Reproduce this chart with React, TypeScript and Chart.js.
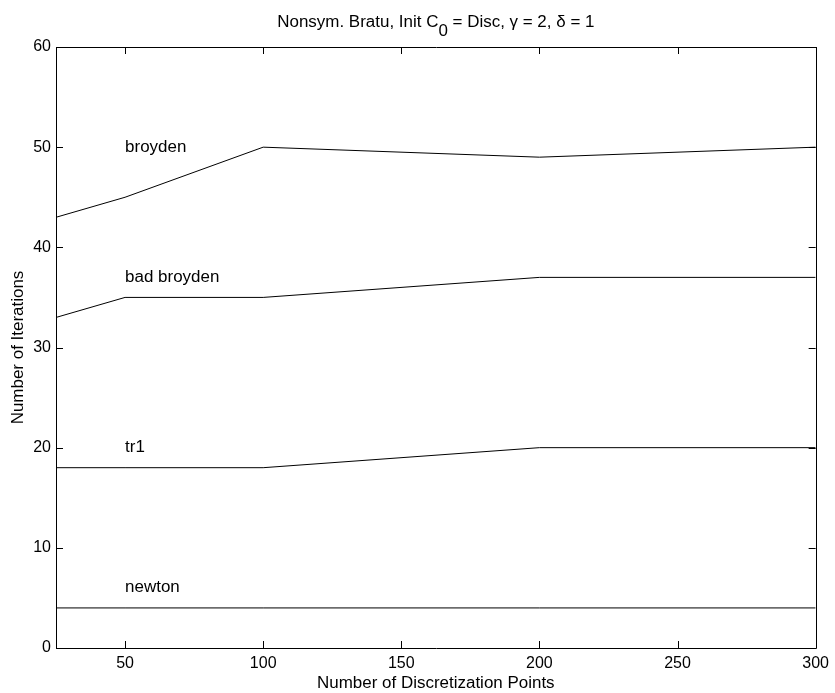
import React, { useEffect, useRef } from "react";
import { Chart, registerables } from "chart.js";

Chart.register(...registerables);

const X_POINTS = [25, 50, 100, 200, 300];
const BROYDEN = [43, 45, 50, 49, 50];
const BAD_BROYDEN = [33, 35, 35, 37, 37];
const TR1 = [18, 18, 18, 20, 20];
const NEWTON = [4, 4, 4, 4, 4];
const SERIES_NAMES = ["broyden", "bad broyden", "tr1", "newton"];
const LABEL_X = 50;
const LABEL_Y = [50, 37, 20, 6];
const X_TICKS = [50, 100, 150, 200, 250, 300];
const Y_TICKS = [0, 10, 20, 30, 40, 50, 60];
const X_MIN = 25;
const X_MAX = 300;
const Y_MIN = 0;
const Y_MAX = 60;
const X_TITLE = "Number of Discretization Points";
const Y_TITLE = "Number of Iterations";
const TITLE_PARTS = ["Nonsym. Bratu, Init C", "0", " = Disc, \u03b3 = 2, \u03b4 = 1"];

const FONT_FAMILY = "'Liberation Sans', Arial, Helvetica, sans-serif";
const FONT = `16px ${FONT_FAMILY}`;
const SX = 1.06;

function drawText(
  ctx: CanvasRenderingContext2D,
  text: string,
  x: number,
  y: number,
  align: CanvasTextAlign,
  baseline: CanvasTextBaseline,
  rotate = 0
) {
  ctx.save();
  ctx.translate(x, y);
  if (rotate) ctx.rotate(rotate);
  ctx.scale(SX, 1);
  ctx.font = FONT;
  ctx.textAlign = align;
  ctx.textBaseline = baseline;
  ctx.fillText(text, 0, 0);
  ctx.restore();
}

const decorPlugin = {
  id: "matlabDecor",
  afterDraw(chart: any) {
    const ctx = chart.ctx as CanvasRenderingContext2D;
    const { left, right, top, bottom } = chart.chartArea;
    const xs = chart.scales.x;
    const ys = chart.scales.y;
    ctx.save();
    // box
    ctx.strokeStyle = "#000";
    ctx.lineWidth = 1;
    ctx.beginPath();
    ctx.rect(Math.round(left) + 0.5, Math.round(top) + 0.5, Math.round(right - left), Math.round(bottom - top));
    ctx.stroke();
    // inward ticks
    const tl = 7;
    ctx.beginPath();
    X_TICKS.forEach((v) => {
      const px = Math.round(xs.getPixelForValue(v)) + 0.5;
      ctx.moveTo(px, bottom);
      ctx.lineTo(px, bottom - tl);
      ctx.moveTo(px, top);
      ctx.lineTo(px, top + tl);
    });
    Y_TICKS.forEach((v) => {
      const py = Math.round(ys.getPixelForValue(v)) + 0.5;
      ctx.moveTo(left, py);
      ctx.lineTo(left + tl, py);
      ctx.moveTo(right, py);
      ctx.lineTo(right - tl, py);
    });
    ctx.stroke();

    ctx.fillStyle = "#000";
    // annotations
    SERIES_NAMES.forEach((name, i) => {
      drawText(ctx, name, xs.getPixelForValue(LABEL_X), ys.getPixelForValue(LABEL_Y[i]), "left", "middle");
    });

    // x title
    drawText(ctx, X_TITLE, (left + right) / 2, 684, "center", "middle");
    // y title
    drawText(ctx, Y_TITLE, 19, (top + bottom) / 2, "center", "middle", -Math.PI / 2);

    // title with subscript
    ctx.font = FONT;
    const w0 = ctx.measureText(TITLE_PARTS[0]).width * SX;
    const w1 = ctx.measureText(TITLE_PARTS[1]).width * SX;
    const w2 = ctx.measureText(TITLE_PARTS[2]).width * SX;
    const total = w0 + w1 + w2;
    let x = (left + right) / 2 - total / 2;
    const baseY = 26.5;
    drawText(ctx, TITLE_PARTS[0], x, baseY, "left", "alphabetic");
    x += w0;
    drawText(ctx, TITLE_PARTS[1], x, baseY + 9.5, "left", "alphabetic");
    x += w1;
    drawText(ctx, TITLE_PARTS[2], x, baseY, "left", "alphabetic");
    ctx.restore();
  },
};

function makeData(ys: number[]) {
  return X_POINTS.map((x, i) => ({ x, y: ys[i] }));
}

export default function App() {
  const ref = useRef<HTMLCanvasElement | null>(null);
  useEffect(() => {
    if (!ref.current) return;
    const lineStyle = {
      borderColor: "#000",
      borderWidth: 1,
      pointRadius: 0,
      pointHoverRadius: 0,
      tension: 0,
      fill: false,
    };
    const chart = new Chart(ref.current, {
      type: "line",
      data: {
        datasets: [
          { label: SERIES_NAMES[0], data: makeData(BROYDEN), ...lineStyle },
          { label: SERIES_NAMES[1], data: makeData(BAD_BROYDEN), ...lineStyle },
          { label: SERIES_NAMES[2], data: makeData(TR1), ...lineStyle },
          { label: SERIES_NAMES[3], data: makeData(NEWTON), ...lineStyle },
        ],
      },
      options: {
        animation: false,
        responsive: false,
        maintainAspectRatio: false,
        events: [],
        layout: { padding: { top: 47, right: 17, bottom: 0, left: 0 } },
        plugins: {
          legend: { display: false },
          tooltip: { enabled: false },
          title: { display: false },
        },
        scales: {
          x: {
            type: "linear",
            min: X_MIN,
            max: X_MAX,
            grid: { display: false, drawTicks: false },
            border: { display: false },
            afterBuildTicks: (s: any) => {
              s.ticks = X_TICKS.map((v) => ({ value: v }));
            },
            afterFit: (s: any) => {
              s.height = 45;
            },
            ticks: {
              color: "#000",
              padding: 6,
              maxRotation: 0,
              autoSkip: false,
              font: { size: 16, family: FONT_FAMILY },
            },
          },
          y: {
            type: "linear",
            min: Y_MIN,
            max: Y_MAX,
            grid: { display: false, drawTicks: false },
            border: { display: false },
            afterBuildTicks: (s: any) => {
              s.ticks = Y_TICKS.map((v) => ({ value: v }));
            },
            afterFit: (s: any) => {
              s.width = 56;
            },
            ticks: {
              color: "#000",
              padding: 5,
              autoSkip: false,
              font: { size: 16, family: FONT_FAMILY },
            },
          },
        },
      },
      plugins: [decorPlugin],
    });
    return () => chart.destroy();
  }, []);
  return (
    <div style={{ position: "fixed", left: 0, top: 0, width: 835, height: 693, background: "#fff" }}>
      <canvas ref={ref} width={835} height={693} style={{ width: 835, height: 693, display: "block" }} />
    </div>
  );
}
